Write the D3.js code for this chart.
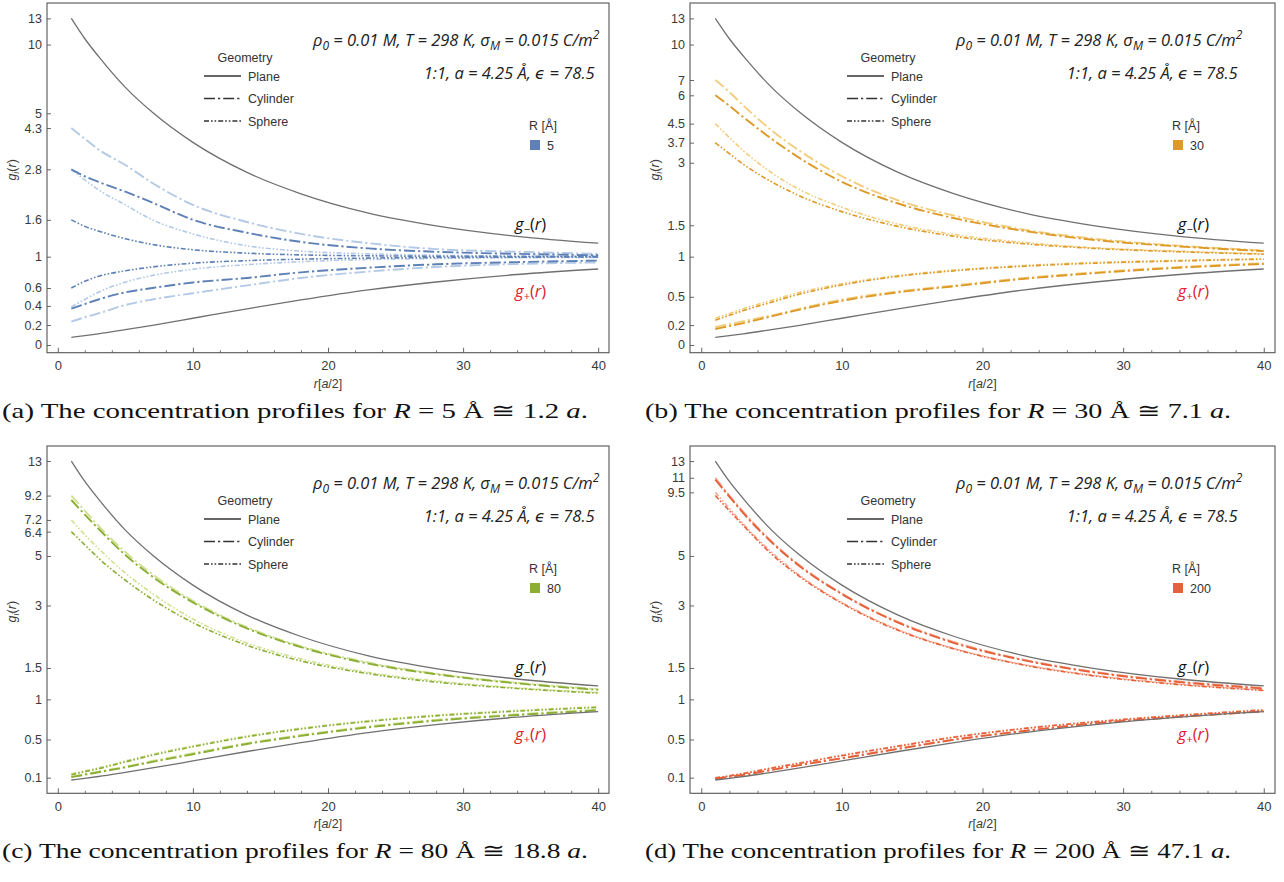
<!DOCTYPE html>
<html>
<head>
<meta charset="utf-8">
<script src="https://cdn.jsdelivr.net/npm/d3@7"></script>
<style>
  body { margin: 0; background: #fff; }
  svg { display: block; }
</style>
</head>
<body>
<svg id="fig" width="1284" height="882"></svg>
<script>
// ---- data -------------------------------------------------------------
// distance from the charged surface, in units of a/2
const rValues = [1, 2, 3, 5, 7, 10, 14, 18, 23, 28, 34, 40];

// planar wall (same in every panel)
const planeMinus = [13.0, 10.6, 8.9, 6.5, 5.05, 3.71, 2.71, 2.15, 1.73, 1.49, 1.31, 1.2];
const planePlus  = [0.077, 0.094, 0.112, 0.154, 0.198, 0.27, 0.369, 0.465, 0.578, 0.671, 0.763, 0.833];

// R = 5 Å
const r5CylMinusLight = [4.3, 3.85, 3.45, 2.93, 2.42, 1.9, 1.56, 1.35, 1.2, 1.11, 1.07, 1.04];
const r5CylMinusDark  = [2.8, 2.6, 2.45, 2.2, 1.95, 1.6, 1.37, 1.22, 1.12, 1.07, 1.04, 1.02];
const r5SphMinusLight = [2.8, 2.5, 2.25, 1.9, 1.6, 1.35, 1.16, 1.08, 1.04, 1.02, 1.01, 1.005];
const r5SphMinusDark  = [1.6, 1.48, 1.4, 1.27, 1.18, 1.1, 1.05, 1.025, 1.012, 1.006, 1.003, 1.0];
const r5SphPlusDark   = [0.6, 0.68, 0.74, 0.81, 0.86, 0.91, 0.945, 0.965, 0.98, 0.988, 0.993, 0.996];
const r5SphPlusLight  = [0.39, 0.47, 0.55, 0.67, 0.75, 0.83, 0.89, 0.93, 0.96, 0.975, 0.985, 0.99];
const r5CylPlusDark   = [0.37, 0.42, 0.47, 0.55, 0.6, 0.665, 0.72, 0.79, 0.85, 0.895, 0.925, 0.945];
const r5CylPlusLight  = [0.235, 0.28, 0.32, 0.41, 0.47, 0.54, 0.63, 0.72, 0.8, 0.86, 0.9, 0.92];

// R = 30 Å
const r30CylMinusLight = [7.0, 6.2, 5.4, 4.2, 3.4, 2.6, 2.0, 1.68, 1.42, 1.27, 1.16, 1.09];
const r30CylMinusDark  = [6.0, 5.4, 4.8, 3.85, 3.15, 2.45, 1.93, 1.63, 1.4, 1.25, 1.15, 1.08];
const r30SphMinusLight = [4.5, 3.9, 3.4, 2.7, 2.25, 1.85, 1.52, 1.34, 1.21, 1.13, 1.08, 1.04];
const r30SphMinusDark  = [3.7, 3.3, 2.95, 2.45, 2.1, 1.76, 1.48, 1.31, 1.19, 1.12, 1.07, 1.035];
const r30SphPlusLight  = [0.27, 0.32, 0.37, 0.46, 0.55, 0.65, 0.75, 0.82, 0.88, 0.92, 0.95, 0.97];
const r30SphPlusDark   = [0.25, 0.3, 0.35, 0.44, 0.53, 0.635, 0.74, 0.81, 0.87, 0.91, 0.94, 0.965];
const r30CylPlusLight  = [0.18, 0.21, 0.24, 0.3, 0.37, 0.47, 0.56, 0.63, 0.72, 0.79, 0.86, 0.91];
const r30CylPlusDark   = [0.16, 0.19, 0.22, 0.29, 0.36, 0.455, 0.55, 0.62, 0.71, 0.78, 0.85, 0.9];

// R = 80 Å
const r80CylMinusLight = [9.2, 7.9, 6.8, 5.2, 4.15, 3.15, 2.38, 1.93, 1.6, 1.4, 1.25, 1.15];
const r80CylMinusDark  = [8.8, 7.6, 6.6, 5.05, 4.05, 3.1, 2.35, 1.91, 1.58, 1.39, 1.24, 1.14];
const r80SphMinusLight = [7.2, 6.2, 5.4, 4.2, 3.4, 2.6, 2.0, 1.67, 1.42, 1.28, 1.17, 1.1];
const r80SphMinusDark  = [6.4, 5.6, 4.9, 3.9, 3.2, 2.5, 1.95, 1.63, 1.4, 1.26, 1.16, 1.09];
const r80SphPlusLight  = [0.14, 0.17, 0.2, 0.27, 0.34, 0.43, 0.54, 0.63, 0.72, 0.79, 0.85, 0.9];
const r80SphPlusDark   = [0.13, 0.16, 0.19, 0.26, 0.33, 0.42, 0.53, 0.62, 0.71, 0.78, 0.84, 0.89];
const r80CylPlusLight  = [0.11, 0.135, 0.16, 0.21, 0.27, 0.35, 0.46, 0.55, 0.65, 0.73, 0.8, 0.86];
const r80CylPlusDark   = [0.105, 0.13, 0.155, 0.205, 0.26, 0.34, 0.45, 0.54, 0.64, 0.72, 0.79, 0.85];

// R = 200 Å
const r200CylMinusLight = [11.0, 9.2, 7.8, 5.8, 4.55, 3.4, 2.52, 2.02, 1.65, 1.43, 1.27, 1.17];
const r200CylMinusDark  = [10.8, 9.1, 7.7, 5.75, 4.5, 3.38, 2.5, 2.0, 1.64, 1.42, 1.26, 1.16];
const r200SphMinusLight = [9.5, 8.1, 6.9, 5.2, 4.1, 3.1, 2.32, 1.88, 1.56, 1.37, 1.23, 1.14];
const r200SphMinusDark  = [9.2, 7.9, 6.8, 5.1, 4.05, 3.07, 2.3, 1.87, 1.55, 1.36, 1.22, 1.13];
const r200SphPlusLight  = [0.1, 0.12, 0.145, 0.2, 0.25, 0.33, 0.43, 0.53, 0.63, 0.71, 0.79, 0.86];
const r200SphPlusDark   = [0.098, 0.118, 0.142, 0.196, 0.246, 0.325, 0.425, 0.525, 0.625, 0.705, 0.785, 0.855];
const r200CylPlusLight  = [0.09, 0.11, 0.13, 0.18, 0.23, 0.3, 0.4, 0.5, 0.6, 0.69, 0.77, 0.84];
const r200CylPlusDark   = [0.088, 0.108, 0.128, 0.177, 0.227, 0.297, 0.397, 0.497, 0.597, 0.687, 0.767, 0.837];

// y tick labels of each panel
const ticksA = [0, 0.2, 0.4, 0.6, 1, 1.6, 2.8, 4.3, 5, 10, 13];
const ticksB = [0, 0.2, 0.5, 1, 1.5, 3, 3.7, 4.5, 6, 7, 10, 13];
const ticksC = [0.1, 0.5, 1, 1.5, 3, 5, 6.4, 7.2, 9.2, 13];
const ticksD = [0.1, 0.5, 1, 1.5, 3, 5, 9.5, 11, 13];
const xTicks = [0, 10, 20, 30, 40];

const radii = ["5", "30", "80", "200"];
const radiiInA = ["1.2", "7.1", "18.8", "47.1"];
const darkColors  = ["#5d80b6", "#dd9a28", "#8cae35", "#e6603a"];
const lightColors = ["#b3c9e6", "#f2cd7c", "#cfe190", "#f4ac93"];

// ---- drawing ----------------------------------------------------------
const svg = d3.select("#fig");
const sansFont = "'Liberation Sans', Arial, sans-serif";
const annFont = "'Open Sans', 'DejaVu Sans', sans-serif";
const serifFont = "'Liberation Serif', 'DejaVu Serif', serif";

const panels = [
  { id: "a", left: 47,  right: 609,  top: 3,   bottom: 352.7, yDom: [-0.077, 3.413], ticks: ticksA,
    series: [r5CylMinusLight, r5SphMinusLight, r5SphPlusLight, r5CylPlusLight,
             r5CylMinusDark, r5SphMinusDark, r5SphPlusDark, r5CylPlusDark] },
  { id: "b", left: 690, right: 1275, top: 3,   bottom: 352.7, yDom: [-0.077, 3.413], ticks: ticksB,
    series: [r30CylMinusLight, r30SphMinusLight, r30SphPlusLight, r30CylPlusLight,
             r30CylMinusDark, r30SphMinusDark, r30SphPlusDark, r30CylPlusDark] },
  { id: "c", left: 47,  right: 609,  top: 446, bottom: 793.3, yDom: [-0.056, 3.41], ticks: ticksC,
    series: [r80CylMinusLight, r80SphMinusLight, r80SphPlusLight, r80CylPlusLight,
             r80CylMinusDark, r80SphMinusDark, r80SphPlusDark, r80CylPlusDark] },
  { id: "d", left: 690, right: 1275, top: 446, bottom: 793.3, yDom: [-0.056, 3.41], ticks: ticksD,
    series: [r200CylMinusLight, r200SphMinusLight, r200SphPlusLight, r200CylPlusLight,
             r200CylMinusDark, r200SphMinusDark, r200SphPlusDark, r200CylPlusDark] }
];
// which series are cylinder (dash-dot) and which sphere (dash-dot-dot)
const seriesKind = ["cyl", "sph", "sph", "cyl", "cyl", "sph", "sph", "cyl"];
const dashes = { cyl: "11,3,2.2,3", sph: "5,2,1.6,2,1.6,2" };

panels.forEach((p, idx) => {
  const g = svg.append("g");
  const x = d3.scaleLinear().domain([-0.8, 40.8]).range([p.left, p.right]);
  // vertical axis is linear in asinh(g)
  const yA = d3.scaleLinear().domain(p.yDom).range([p.bottom, p.top]);
  const y = v => yA(Math.asinh(v));

  // curves
  const line = d3.line()
    .x((d, i) => x(rValues[i]))
    .y(d => y(d))
    .curve(d3.curveMonotoneX);

  const clipId = "clip-" + p.id;
  g.append("clipPath").attr("id", clipId).append("rect")
    .attr("x", p.left).attr("y", p.top)
    .attr("width", p.right - p.left).attr("height", p.bottom - p.top);
  const plot = g.append("g").attr("clip-path", `url(#${clipId})`);

  p.series.forEach((s, k) => {
    const isLight = k < 4;
    plot.append("path")
      .attr("d", line(s))
      .attr("fill", "none")
      .attr("stroke", isLight ? lightColors[idx] : darkColors[idx])
      .attr("stroke-width", seriesKind[k] === "cyl" ? 1.9 : 1.6)
      .attr("stroke-dasharray", dashes[seriesKind[k]]);
  });
  [planeMinus, planePlus].forEach(s => {
    plot.append("path")
      .attr("d", line(s))
      .attr("fill", "none")
      .attr("stroke", "#707070")
      .attr("stroke-width", 1.3);
  });

  // axes (ticks point into the frame)
  const xAxis = g.append("g").attr("transform", `translate(0,${p.bottom})`)
    .call(d3.axisBottom(x).tickValues(xTicks).tickSize(-5).tickPadding(8).tickFormat(d3.format("d")));
  g.append("g").attr("transform", `translate(0,${p.bottom})`)
    .call(d3.axisBottom(x).tickValues(d3.range(2, 41, 2).filter(v => v % 10)).tickSize(-2.5).tickFormat(""))
    .call(a => a.select(".domain").remove())
    .selectAll("line").attr("stroke", "#777");
  const yAxis = g.append("g").attr("transform", `translate(${p.left},0)`)
    .call(d3.axisLeft(yA).tickValues(p.ticks.map(Math.asinh)).tickSize(-4).tickPadding(5)
      .tickFormat((d, i) => String(p.ticks[i])));
  [xAxis, yAxis].forEach(a => {
    a.select(".domain").remove();
    a.selectAll("line").attr("stroke", "#666");
    a.selectAll("text").attr("fill", "#3a3a3a").style("font-family", sansFont).style("font-size", "13px");
  });
  yAxis.selectAll("text").style("font-size", "12.5px");

  // spread apart tick labels that sit too close together
  const minGap = 12.5;
  const tickNodes = yAxis.selectAll(".tick").nodes()
    .map(n => ({ n, pos: yA(d3.select(n).datum()) }))
    .sort((a, b) => a.pos - b.pos);
  for (let i = 1; i < tickNodes.length; i++) {
    const gap = tickNodes[i].pos - tickNodes[i - 1].pos;
    if (gap < minGap) {
      const shift = (minGap - gap) / 2;
      d3.select(tickNodes[i - 1].n).select("text").attr("y", -shift);
      d3.select(tickNodes[i].n).select("text").attr("y", shift);
    }
  }

  // frame
  g.append("rect")
    .attr("x", p.left).attr("y", p.top)
    .attr("width", p.right - p.left).attr("height", p.bottom - p.top)
    .attr("fill", "none").attr("stroke", "#555").attr("stroke-width", 1.1);

  // axis titles
  const xt = g.append("text")
    .attr("x", (p.left + p.right) / 2).attr("y", p.bottom + 35)
    .attr("text-anchor", "middle")
    .style("font-family", sansFont).style("font-size", "12.5px").attr("fill", "#3a3a3a");
  xt.append("tspan").attr("font-style", "italic").text("r");
  xt.append("tspan").text("[");
  xt.append("tspan").attr("font-style", "italic").text("a");
  xt.append("tspan").text("/2]");

  const yt = g.append("text")
    .attr("transform", `translate(${p.left - 31},${(p.top + p.bottom) / 2 - 8}) rotate(-90)`)
    .attr("text-anchor", "middle")
    .style("font-family", sansFont).style("font-size", "12.5px").attr("fill", "#3a3a3a");
  yt.append("tspan").attr("font-style", "italic").text("g");
  yt.append("tspan").attr("font-style", "italic").attr("font-size", "9px").attr("dy", 3).text("i");
  yt.append("tspan").attr("dy", -3).text("(");
  yt.append("tspan").attr("font-style", "italic").text("r");
  yt.append("tspan").text(")");

  // parameter annotation
  const a1 = g.append("text")
    .attr("x", p.left + 266).attr("y", p.top + 43)
    .style("font-family", annFont).style("font-size", "16.5px").style("font-style", "italic")
    .attr("fill", "#222");
  a1.append("tspan").text("ρ");
  a1.append("tspan").attr("font-size", "12px").attr("dy", 4).text("0");
  a1.append("tspan").attr("dy", -4).text(" = 0.01 M, T = 298 K, σ");
  a1.append("tspan").attr("font-size", "12px").attr("dy", 4).text("M");
  a1.append("tspan").attr("dy", -4).text(" = 0.015 C/m");
  a1.append("tspan").attr("font-size", "12px").attr("dy", -7).text("2");
  const a1Right = a1.node().getBBox().x + a1.node().getBBox().width;
  g.append("text")
    .attr("x", a1Right - 5).attr("y", p.top + 76)
    .attr("text-anchor", "end")
    .style("font-family", annFont).style("font-size", "16.5px").style("font-style", "italic")
    .attr("fill", "#222")
    .text("1:1, a = 4.25 Å, ϵ = 78.5");

  // geometry legend
  const lg = g.append("g").style("font-family", sansFont).style("font-size", "12.5px").attr("fill", "#333");
  lg.append("text").attr("x", p.left + 198).attr("y", p.top + 59).attr("text-anchor", "middle").text("Geometry");
  const geo = [["Plane", null, 1.3], ["Cylinder", dashes.cyl, 1.6], ["Sphere", dashes.sph, 1.4]];
  geo.forEach((row, j) => {
    const yy = p.top + 73 + j * 22.5;
    lg.append("line")
      .attr("x1", p.left + 157).attr("x2", p.left + 194)
      .attr("y1", yy).attr("y2", yy)
      .attr("stroke", "#333").attr("stroke-width", row[2])
      .attr("stroke-dasharray", row[1]);
    lg.append("text").attr("x", p.left + 201).attr("y", yy + 4.5).text(row[0]);
  });

  // radius legend
  const rl = g.append("g").style("font-family", sansFont).style("font-size", "12.5px").attr("fill", "#333");
  rl.append("text").attr("x", p.left + 496).attr("y", p.top + 127).attr("text-anchor", "middle").text("R [Å]");
  rl.append("rect").attr("x", p.left + 483).attr("y", p.top + 137)
    .attr("width", 10).attr("height", 10).attr("fill", darkColors[idx]);
  rl.append("text").attr("x", p.left + 500).attr("y", p.top + 147).text(radii[idx]);

  // curve labels
  const lm = g.append("text").attr("x", x(35)).attr("y", y(1.52)).attr("dy", "0.35em")
    .attr("text-anchor", "middle")
    .style("font-family", annFont).style("font-size", "16.5px").attr("fill", "#111");
  lm.append("tspan").attr("font-style", "italic").text("g");
  lm.append("tspan").attr("font-size", "11px").attr("dy", 3).text("−");
  lm.append("tspan").attr("dy", -3).text("(");
  lm.append("tspan").attr("font-style", "italic").text("r");
  lm.append("tspan").text(")");
  const lp = g.append("text").attr("x", x(35)).attr("y", y(0.56)).attr("dy", "0.35em")
    .attr("text-anchor", "middle")
    .style("font-family", annFont).style("font-size", "16.5px").attr("fill", "#e0202c");
  lp.append("tspan").attr("font-style", "italic").text("g");
  lp.append("tspan").attr("font-size", "11px").attr("dy", 3).text("+");
  lp.append("tspan").attr("dy", -3).text("(");
  lp.append("tspan").attr("font-style", "italic").text("r");
  lp.append("tspan").text(")");

  // caption
  const capX = p.left < 100 ? 2 : 645;
  const cap = svg.append("text")
    .attr("x", capX).attr("y", p.bottom + 65)
    .style("font-family", serifFont).style("font-size", "21px").attr("fill", "#111")
    .attr("textLength", 586).attr("lengthAdjust", "spacingAndGlyphs");
  cap.append("tspan").text(`(${p.id}) The concentration profiles for `);
  cap.append("tspan").attr("font-style", "italic").text("R");
  cap.append("tspan").text(` = ${radii[idx]} Å ≅ ${radiiInA[idx]} `);
  cap.append("tspan").attr("font-style", "italic").text("a");
  cap.append("tspan").text(".");
});
</script>
</body>
</html>
